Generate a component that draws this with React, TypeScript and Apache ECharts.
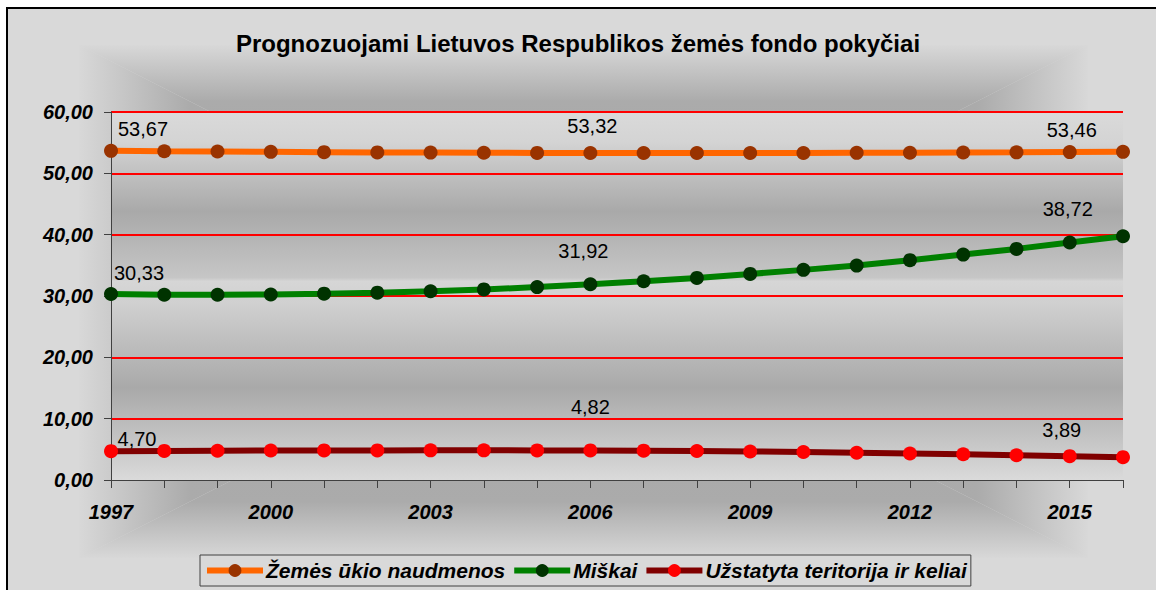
import React, { useEffect, useRef } from "react";
import * as echarts from "echarts";

const years = ["1997","1998","1999","2000","2001","2002","2003","2004","2005","2006","2007","2008","2009","2010","2011","2012","2013","2014","2015","2016"];
const agriculture = [53.67, 53.60, 53.55, 53.50, 53.45, 53.41, 53.38, 53.35, 53.33, 53.32, 53.31, 53.31, 53.31, 53.32, 53.34, 53.36, 53.39, 53.42, 53.46, 53.50];
const forests = [30.33, 30.20, 30.20, 30.25, 30.38, 30.55, 30.78, 31.07, 31.45, 31.92, 32.40, 32.95, 33.60, 34.26, 34.96, 35.84, 36.75, 37.68, 38.72, 39.75];
const builtUp = [4.70, 4.74, 4.77, 4.80, 4.82, 4.83, 4.84, 4.84, 4.83, 4.82, 4.78, 4.73, 4.65, 4.56, 4.45, 4.33, 4.19, 4.04, 3.89, 3.72];
const seriesNames = ["Žemės ūkio naudmenos", "Miškai", "Užstatyta teritorija ir keliai"];
const labelledIndices = [0, 9, 18];
const titleText = "Prognozuojami Lietuvos Respublikos žemės fondo pokyčiai";

const FONT = "'Liberation Sans', Arial, Helvetica, sans-serif";
const fmt = (v: number) => v.toFixed(2).replace(".", ",");

// label offsets (style only)
const labelOffsets: number[][][] = [
  [[32, -22], [2, -27], [2, -22]],
  [[28, -21], [-7, -33], [-2, -34]],
  [[26, -12], [0, -43], [-8, -26]],
];

const lineColors = ["#ff6600", "#008000", "#800000"];
const markerColors = ["#993300", "#003300", "#ff0000"];

function buildData(values: number[], si: number) {
  return values.map((v, i) => {
    const li = labelledIndices.indexOf(i);
    if (li < 0) return v;
    return {
      value: v,
      label: {
        show: true,
        position: "inside",
        offset: labelOffsets[si][li],
        formatter: (p: any) => fmt(p.value),
        color: "#000",
        fontFamily: FONT,
        fontSize: 20,
      },
    };
  });
}

export default function App() {
  const ref = useRef<HTMLDivElement>(null);
  useEffect(() => {
    if (!ref.current) return;
    const chart = echarts.init(ref.current, null, { renderer: "svg" });
    const G = echarts.graphic;
    const ix0 = 79, iy0 = 45, ix1 = 1088, iy1 = 558;
    const cx = (ix0 + ix1) / 2, cy = (iy0 + iy1) / 2;
    const frameStops = [
      { offset: 0, color: "#d8d8d8" },
      { offset: 0.22, color: "#ababab" },
      { offset: 1, color: "#a2a2a2" },
    ];
    const plotStops = [
      { offset: 0, color: "#dadada" },
      { offset: 0.08, color: "#d4d4d4" },
      { offset: 0.27, color: "#a9a9a9" },
      { offset: 0.45, color: "#c6c6c6" },
      { offset: 0.46, color: "#d6d6d6" },
      { offset: 0.52, color: "#d0d0d0" },
      { offset: 0.75, color: "#a9a9a9" },
      { offset: 1, color: "#dadada" },
    ];
    const gLeft = 111, gTop = 112, gRight = 1123, gBottom = 480;
    const series = [agriculture, forests, builtUp].map((vals, si) => ({
      name: seriesNames[si],
      type: "line",
      data: buildData(vals, si),
      symbol: "circle",
      symbolSize: 14,
      showSymbol: true,
      lineStyle: { color: lineColors[si], width: 6 },
      itemStyle: { color: markerColors[si] },
      z: 3 + si,
    }));
    chart.setOption({
      animation: false,
      graphic: [
        { type: "rect", shape: { x: 7, y: 8, width: 1170, height: 600 }, style: { fill: "#d9d9d9", stroke: "#000", lineWidth: 2 } },
        { type: "polygon", shape: { points: [[ix0, iy0], [ix1, iy0], [cx, cy]] }, style: { fill: new G.LinearGradient(0, 0, 0, 1, frameStops) } },
        { type: "polygon", shape: { points: [[ix0, iy1], [ix1, iy1], [cx, cy]] }, style: { fill: new G.LinearGradient(0, 1, 0, 0, frameStops) } },
        { type: "polygon", shape: { points: [[ix0, iy0], [ix0, iy1], [cx, cy]] }, style: { fill: new G.LinearGradient(0, 0, 1, 0, frameStops) } },
        { type: "polygon", shape: { points: [[ix1, iy0], [ix1, iy1], [cx, cy]] }, style: { fill: new G.LinearGradient(1, 0, 0, 0, frameStops) } },
        { type: "rect", shape: { x: gLeft, y: gTop, width: gRight - gLeft, height: gBottom - gTop }, style: { fill: new G.LinearGradient(0, 0, 0, 1, plotStops) } },
      ],
      title: {
        text: titleText,
        left: "center",
        top: 26,
        textStyle: { fontFamily: FONT, fontSize: 24, fontWeight: "bold", color: "#000" },
      },
      grid: { left: gLeft, top: gTop, right: 1156 - gRight, bottom: 590 - gBottom, containLabel: false },
      legend: {
        data: seriesNames,
        left: 200,
        top: 555,
        padding: [5, 4],
        itemGap: 6,
        itemWidth: 56,
        itemHeight: 16,
        backgroundColor: "#d9d9d9",
        borderColor: "#404040",
        borderWidth: 1,
        borderRadius: 0,
        lineStyle: { width: 6 },
        textStyle: { fontFamily: FONT, fontSize: 21, fontWeight: "bold", fontStyle: "italic", color: "#000", padding: [0, 0, 0, -2] },
      },
      xAxis: {
        type: "category",
        data: years,
        boundaryGap: false,
        axisLine: { show: true, lineStyle: { color: "#404040", width: 1 } },
        axisTick: { show: true, interval: 0, length: 8, lineStyle: { color: "#404040" } },
        axisLabel: { interval: 2, margin: 22, fontFamily: FONT, fontSize: 20, fontWeight: "bold", fontStyle: "italic", color: "#000" },
        splitLine: { show: false },
      },
      yAxis: {
        type: "value",
        min: 0,
        max: 60,
        interval: 10,
        axisLine: { show: true, lineStyle: { color: "#404040", width: 1 } },
        axisTick: { show: true, length: 7, lineStyle: { color: "#404040" } },
        axisLabel: { margin: 18, formatter: (v: number) => fmt(v), fontFamily: FONT, fontSize: 20, fontWeight: "bold", fontStyle: "italic", color: "#000" },
        splitLine: { show: true, lineStyle: { color: ["rgba(0,0,0,0)", "#ff0000", "#ff0000", "#ff0000", "#ff0000", "#ff0000", "#ff0000"], width: 2 } },
      },
      series,
    });
    return () => chart.dispose();
  }, []);
  return (
    <div style={{ position: "absolute", left: 0, top: 0, width: 1156, height: 590 }}>
      <div ref={ref} style={{ width: 1156, height: 590 }} />
    </div>
  );
}
